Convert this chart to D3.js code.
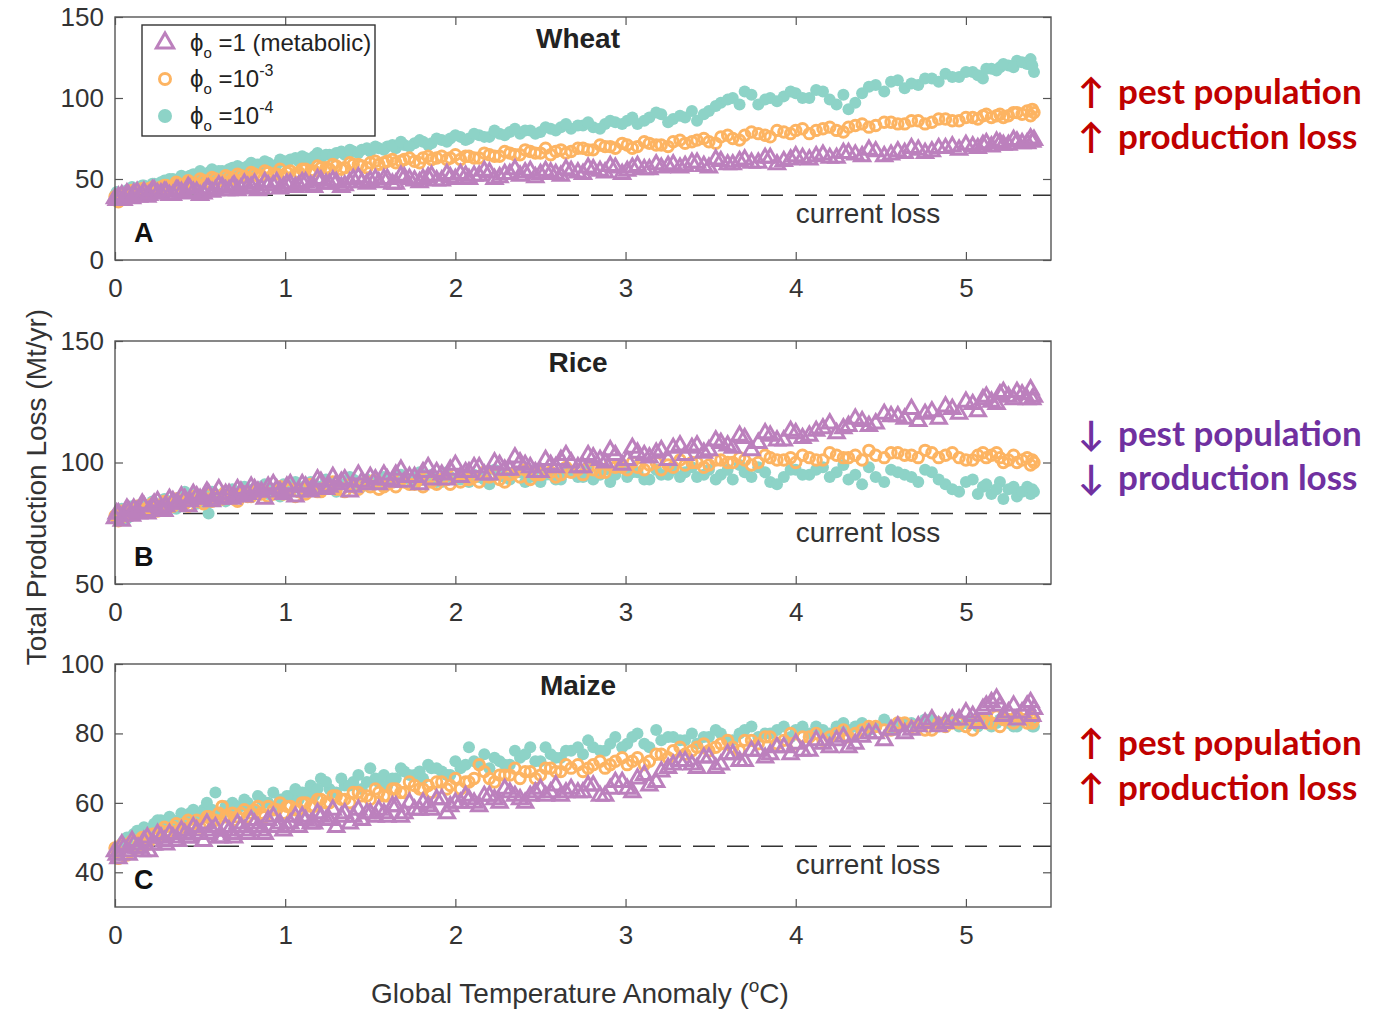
<!DOCTYPE html>
<html>
<head>
<meta charset="utf-8">
<script src="https://cdn.jsdelivr.net/npm/d3@7"></script>
<style>
  body { margin: 0; background: #fff; }
  svg { display: block; font-family: "Liberation Sans", Arial, sans-serif; }
</style>
</head>
<body>
<svg id="chart" width="1389" height="1010"></svg>
<script>
// temperature anomaly of the model runs (deg C), two ensembles
const temps = [
  0.00,0.02,0.05,0.08,0.11,0.14,0.17,0.20,0.23,0.27,
  0.30,0.34,0.37,0.41,0.44,0.48,0.52,0.55,0.59,0.63,
  0.67,0.70,0.74,0.78,0.82,0.86,0.90,0.95,0.99,1.03,
  1.08,1.12,1.17,1.21,1.26,1.30,1.35,1.40,1.45,1.50,
  1.55,1.60,1.65,1.70,1.76,1.81,1.86,1.92,1.97,2.03,
  2.08,2.14,2.20,2.26,2.32,2.38,2.44,2.50,2.56,2.62,
  2.68,2.75,2.81,2.88,2.94,3.01,3.07,3.14,3.21,3.28,
  3.35,3.42,3.49,3.56,3.63,3.70,3.78,3.85,3.93,4.00,
  4.08,4.16,4.24,4.31,4.39,4.47,4.56,4.64,4.72,4.80,
  4.88,4.96,5.04,5.10,5.15,5.20,5.25,5.30,5.36,5.40
];
const temps2 = [
  0.01,0.04,0.07,0.10,0.13,0.16,0.19,0.22,0.25,0.29,
  0.32,0.36,0.39,0.43,0.46,0.50,0.54,0.57,0.61,0.65,
  0.69,0.72,0.76,0.80,0.84,0.88,0.93,0.97,1.01,1.06,
  1.10,1.15,1.19,1.24,1.28,1.33,1.38,1.43,1.48,1.53,
  1.58,1.63,1.68,1.73,1.79,1.84,1.89,1.95,2.00,2.06,
  2.11,2.17,2.23,2.29,2.35,2.41,2.47,2.53,2.59,2.65,
  2.72,2.78,2.85,2.91,2.98,3.04,3.11,3.18,3.25,3.32,
  3.39,3.46,3.53,3.60,3.67,3.74,3.82,3.89,3.97,4.04,
  4.12,4.20,4.28,4.35,4.43,4.52,4.60,4.68,4.76,4.84,
  4.92,5.00,5.07,5.12,5.18,5.22,5.28,5.33,5.38,5.39
];

// Wheat (Mt/yr)
const wheatMetabolic = [
  38,39,37,40,41,39,42,40,43,41, 42,40,43,41,44,42,41,44,43,45,
  43,46,44,45,47,44,46,48,45,47, 46,48,45,49,47,48,46,50,48,49,
  48,50,47,51,49,50,52,49,51,53, 50,52,54,51,53,52,55,53,54,52,
  55,53,56,54,57,55,58,56,57,59, 58,60,57,61,59,62,60,63,61,64,
  62,65,63,66,64,67,65,66,68,67, 69,68,70,71,70,72,71,73,72,74
];
const wheatMetabolic2 = [
  37,40,41,38,42,40,39,43,41,42, 40,43,42,45,42,40,44,42,46,43,
  45,43,47,45,43,48,46,44,47,45, 48,46,50,47,49,45,48,51,47,50,
  50,47,52,50,48,51,49,53,50,52, 52,55,50,53,56,54,51,55,53,56,
  54,57,55,58,53,57,56,59,58,57, 60,58,62,59,61,60,63,59,62,63,
  64,63,66,65,68,64,67,69,66,69, 70,71,69,72,73,71,74,72,75,73
];
const wheatPhi3 = [
  39,36,40,42,41,43,42,44,43,45, 46,44,47,46,48,47,49,48,50,49,
  51,50,52,51,53,52,54,53,52,55, 54,56,55,57,56,58,57,59,58,60,
  59,61,60,62,61,63,62,64,63,62, 64,63,65,64,66,65,67,66,65,68,
  67,69,68,70,69,71,70,72,71,73, 72,74,73,76,75,77,78,76,79,80,
  78,81,80,82,84,83,85,84,86,85, 87,86,88,89,88,90,89,91,92,91
];
const wheatPhi3b = [
  37,41,39,43,40,44,41,45,44,46, 45,48,46,49,47,50,48,51,49,52,
  50,53,51,54,52,55,53,56,54,53, 56,55,58,57,59,56,60,59,57,61,
  60,62,61,63,60,64,63,62,65,64, 63,66,64,67,65,68,66,69,67,66,
  69,68,71,70,72,69,73,71,70,74, 73,75,72,77,74,79,77,80,78,81,
  80,82,79,83,82,85,84,86,84,87, 86,88,87,90,89,88,91,90,89,93
];
const wheatPhi4 = [
  40,41,42,43,44,44,46,45,47,48, 48,50,49,51,52,51,53,54,53,55,
  56,55,57,58,57,59,60,59,61,62, 61,63,64,63,65,66,65,67,68,67,
  69,70,69,71,72,73,72,74,75,76, 75,77,76,78,79,78,80,79,81,82,
  81,83,82,84,85,86,84,88,90,87, 88,86,92,97,100,104,96,100,101,103,
  100,104,96,93,103,108,110,106,108,112, 115,113,116,112,118,119,120,123,121,116
];
const wheatPhi4b = [
  42,40,43,45,43,46,44,47,46,49, 50,48,52,50,53,55,52,56,55,54,
  57,58,56,60,59,61,58,62,60,63, 64,62,66,65,64,67,68,66,69,70,
  68,71,73,70,74,71,75,73,77,74, 78,76,80,77,81,80,78,82,80,84,
  83,85,81,86,84,88,86,91,85,89, 92,90,95,99,96,102,99,98,104,100,
  105,99,102,97,107,104,111,109,112,110, 113,116,114,118,117,121,119,122,124,120
];

// Rice (Mt/yr)
const riceMetabolic = [
  77,79,78,80,81,79,82,80,83,81, 82,84,83,85,84,86,85,87,86,85,
  87,86,88,87,89,88,90,89,87,91, 88,90,89,92,90,91,93,90,92,94,
  91,93,95,92,94,96,93,95,97,94, 96,98,95,99,97,100,98,96,99,101,
  100,98,102,100,103,101,104,102,105,106, 103,107,105,108,106,110,108,111,109,112,
  111,114,112,115,117,116,119,118,117,121, 123,120,124,126,125,128,127,129,126,127
];
const riceMetabolic2 = [
  79,76,81,78,80,83,79,82,84,80, 85,83,86,82,87,85,88,84,89,87,
  85,89,86,90,88,85,91,88,90,86, 91,88,93,89,94,92,88,95,91,93,
  95,92,97,94,91,98,96,93,99,96, 98,95,100,97,102,99,96,101,98,103,
  98,103,101,105,99,106,103,104,101,107, 106,104,109,107,111,105,112,109,113,110,
  113,116,114,118,115,120,119,122,120,118, 122,125,121,127,124,129,126,128,130,126
];
const ricePhi3 = [
  78,76,79,80,79,81,80,82,81,82, 83,82,84,83,85,84,83,85,86,85,
  86,85,87,86,88,87,86,88,87,89, 88,87,89,88,90,89,88,90,91,90,
  89,91,90,92,91,90,92,93,91,92, 93,92,94,93,95,94,93,95,96,95,
  96,95,97,96,98,97,98,99,97,98, 99,100,99,101,100,101,100,102,101,100,
  102,101,103,102,101,103,104,103,102,104, 103,102,101,104,103,102,101,100,102,100
];
const ricePhi3b = [
  77,80,78,79,82,80,81,83,80,84, 82,85,84,82,86,85,87,84,86,88,
  87,84,88,86,89,88,87,90,89,86, 89,91,88,90,92,89,91,89,92,93,
  90,92,93,91,93,94,91,93,95,94, 94,96,95,92,96,97,95,97,94,98,
  97,98,96,99,98,100,97,100,99,101, 100,98,101,100,102,99,103,101,102,103,
  101,104,102,103,105,102,104,103,105,102, 104,101,103,102,104,100,103,101,99,101
];
const ricePhi4 = [
  78,76,80,79,81,80,82,81,83,80, 82,84,83,88,84,83,86,79,85,87,
  86,88,87,89,88,90,87,89,91,88, 90,89,91,90,92,88,91,93,90,92,
  91,93,92,94,91,93,95,92,94,93, 92,94,91,95,93,96,94,92,95,93,
  96,94,93,97,95,94,96,93,95,97, 96,94,97,95,93,96,98,92,94,97,
  95,98,96,93,91,94,97,95,92,96, 91,88,93,90,87,92,89,86,90,88
];
const ricePhi4b = [
  79,81,77,82,79,83,81,84,82,85, 83,81,86,84,87,85,83,88,86,84,
  89,86,90,88,87,91,89,86,90,92, 88,92,90,93,89,91,94,90,93,91,
  94,92,95,93,96,94,92,96,93,95, 95,93,97,94,96,92,97,95,93,96,
  94,97,95,92,98,96,93,97,95,94, 98,95,93,97,99,94,96,91,97,95,
  97,94,99,95,98,92,96,94,97,93, 89,92,87,91,89,85,90,88,87,89
];

// Maize (Mt/yr)
const maizeMetabolic = [
  46,44,47,45,48,47,49,46,48,50, 48,50,49,51,50,52,49,51,53,50,
  52,50,53,51,54,52,55,53,52,54, 53,55,54,56,55,53,57,56,55,57,
  58,56,59,57,58,60,58,61,59,60, 61,59,62,60,63,61,62,64,63,62,
  64,63,65,62,66,64,67,65,69,71, 72,70,73,71,74,72,75,74,76,77,
  75,77,78,76,79,80,81,80,82,84, 83,84,85,87,89,88,86,84,88,87
];
const maizeMetabolic2 = [
  45,48,46,49,47,46,50,48,51,49, 51,49,52,50,53,51,54,52,50,53,
  51,54,52,55,53,51,56,54,53,56, 56,54,57,55,58,56,54,58,57,56,
  57,59,56,60,58,59,61,57,60,62, 60,62,61,64,62,60,63,62,65,63,
  63,65,62,64,66,63,68,66,70,72, 71,73,70,74,72,75,73,76,74,75,
  78,76,79,77,80,78,82,81,83,82, 84,86,83,88,90,85,88,86,89,85
];
const maizePhi3 = [
  47,44,48,46,49,48,50,49,51,52, 51,53,52,54,53,55,54,56,55,59,
  56,55,57,56,58,57,59,58,57,59, 58,60,59,61,60,62,61,63,62,61,
  63,62,64,63,65,64,63,66,65,64, 66,71,67,68,68,67,69,68,70,69,
  70,69,71,70,72,71,73,72,74,75, 74,76,75,77,76,78,77,79,78,77,
  79,78,80,79,81,82,81,83,82,81, 82,83,81,84,83,82,84,85,83,84
];
const maizePhi3b = [
  46,48,45,49,47,50,48,51,50,53, 52,54,51,55,54,53,56,55,57,56,
  57,56,58,57,59,56,58,60,59,58, 60,59,61,60,62,61,60,63,62,64,
  62,64,63,66,64,65,66,64,67,66, 67,69,66,68,70,69,67,70,69,71,
  71,70,72,71,73,72,71,74,73,76, 75,77,76,78,75,78,79,77,80,79,
  80,79,81,80,82,81,83,82,81,83, 83,82,84,83,85,84,83,84,85,83
];
const maizePhi4 = [
  47,45,49,48,51,50,53,52,54,55, 53,55,54,56,57,55,58,56,63,57,
  58,57,59,60,58,61,60,59,61,62, 61,63,62,67,64,63,65,66,64,70,
  66,65,67,69,68,67,70,69,68,70, 76,71,70,72,71,73,76,72,74,73,
  75,74,76,75,79,77,80,76,78,79, 78,77,79,80,78,81,79,80,82,81,
  80,81,82,81,83,82,81,83,82,84, 83,82,84,83,82,84,83,82,84,82
];
const maizePhi4b = [
  46,48,50,47,52,51,50,53,55,54, 56,54,57,55,58,56,60,58,57,59,
  60,59,61,58,62,60,63,61,62,64, 63,65,64,66,63,67,65,68,66,67,
  68,67,70,68,69,71,70,68,72,71, 72,74,73,71,75,74,72,76,73,75,
  76,78,75,77,76,79,77,81,79,78, 80,79,81,78,80,82,80,81,79,82,
  82,80,83,82,81,84,82,83,84,82, 84,83,82,84,83,85,82,84,83,82
];

const cropNames = ['Wheat', 'Rice', 'Maize'];
const panelLetters = ['A', 'B', 'C'];
const currentLoss = [40, 79, 47.5];
const yDomains = [[0, 150], [50, 150], [30, 100]];
const yTickValues = [[0, 50, 100, 150], [50, 100, 150], [40, 60, 80, 100]];
const xTickValues = [0, 1, 2, 3, 4, 5];
// [metabolic, 1e-3, 1e-4] for each crop, each as two ensembles
const cropSeries = [
  [[wheatMetabolic, wheatMetabolic2], [wheatPhi3, wheatPhi3b], [wheatPhi4, wheatPhi4b]],
  [[riceMetabolic, riceMetabolic2], [ricePhi3, ricePhi3b], [ricePhi4, ricePhi4b]],
  [[maizeMetabolic, maizeMetabolic2], [maizePhi3, maizePhi3b], [maizePhi4, maizePhi4b]]
];
const effectArrows = ['\u2191', '\u2193', '\u2191'];
const effectLines = ['pest population', 'production loss'];

const purple = '#bc80bd', orange = '#fdb462', teal = '#8dd3c7';
const effectColors = ['#c00000', '#7030a0', '#c00000'];
const axisColor = '#555', textColor = '#333';

const svg = d3.select('#chart');
const left = 115, right = 1051, panelH = 243;
const panelTop = [17, 341, 664];
const effectBaselines = [[104, 149], [446, 490], [755, 800]];

const x = d3.scaleLinear().domain([0, 5.5]).range([left, right]);
const triangle = d3.symbol(d3.symbolTriangle, 100);

// flatten two ensembles into {t, v}
const points = (runs) => runs[0].map((v, k) => ({ t: temps[k], v }))
    .concat(runs[1].map((v, k) => ({ t: temps2[k], v })));

cropNames.forEach((name, i) => {
    const top = panelTop[i];
    const y = d3.scaleLinear().domain(yDomains[i]).range([top + panelH, top]);
    const g = svg.append('g');

    // axes, ticks pointing inward
    g.append('g').attr('transform', `translate(0,${top + panelH})`)
        .call(d3.axisBottom(x).tickValues(xTickValues).tickFormat(d3.format('d')).tickSize(-8).tickPadding(19));
    g.append('g').attr('transform', `translate(0,${top})`)
        .call(d3.axisTop(x).tickValues(xTickValues).tickSize(-8).tickFormat(''));
    g.append('g').attr('transform', `translate(${left},0)`)
        .call(d3.axisLeft(y).tickValues(yTickValues[i]).tickSize(-8).tickPadding(11));
    g.append('g').attr('transform', `translate(${right},0)`)
        .call(d3.axisRight(y).tickValues(yTickValues[i]).tickSize(-8).tickFormat(''));
    g.selectAll('.domain').remove();
    g.selectAll('.tick line').attr('stroke', axisColor).attr('stroke-width', 1.2);
    g.selectAll('.tick text').attr('fill', textColor)
        .style('font-size', '26px').style('font-family', '"Liberation Sans", Arial, sans-serif');

    // current loss
    g.append('line')
        .attr('x1', left).attr('x2', right)
        .attr('y1', y(currentLoss[i])).attr('y2', y(currentLoss[i]))
        .attr('stroke', '#333').attr('stroke-width', 1.6)
        .attr('stroke-dasharray', '22,12');
    g.append('text')
        .attr('x', 868).attr('y', y(currentLoss[i]) + 28)
        .attr('text-anchor', 'middle').attr('fill', textColor)
        .style('font-size', '28px').text('current loss');

    const [metab, phi3, phi4] = cropSeries[i];

    g.append('g').selectAll('circle').data(points(phi4)).join('circle')
        .attr('cx', d => x(d.t)).attr('cy', d => y(d.v))
        .attr('r', 6).attr('fill', teal);
    g.append('g').selectAll('circle').data(points(phi3)).join('circle')
        .attr('cx', d => x(d.t)).attr('cy', d => y(d.v))
        .attr('r', 5.2).attr('fill', 'none').attr('stroke', orange).attr('stroke-width', 3);
    g.append('g').selectAll('path').data(points(metab)).join('path')
        .attr('transform', d => `translate(${x(d.t)},${y(d.v)})`)
        .attr('d', triangle)
        .attr('fill', 'none').attr('stroke', purple).attr('stroke-width', 3);

    // frame
    g.append('rect')
        .attr('x', left).attr('y', top).attr('width', right - left).attr('height', panelH)
        .attr('fill', 'none').attr('stroke', axisColor).attr('stroke-width', 1.4);

    g.append('text')
        .attr('x', 578).attr('y', top + 31)
        .attr('text-anchor', 'middle').attr('fill', '#222')
        .style('font-size', '28px').style('font-weight', 'bold').text(name);
    g.append('text')
        .attr('x', 134).attr('y', top + 225)
        .attr('fill', '#111')
        .style('font-size', '27px').style('font-weight', 'bold').text(panelLetters[i]);

    // effect annotation on the right
    const ann = svg.append('g').style('font-family', 'Lato, "Open Sans", "DejaVu Sans", sans-serif')
        .style('font-weight', 'bold').style('font-size', '35px').attr('fill', effectColors[i]);
    effectLines.forEach((label, j) => {
        const t = ann.append('text').attr('y', effectBaselines[i][j]);
        t.append('tspan').attr('x', 1078).text(effectArrows[i]);
        t.append('tspan').attr('x', 1118).text(label);
    });
});

// legend
const legend = svg.append('g');
legend.append('rect')
    .attr('x', 142).attr('y', 25).attr('width', 233).attr('height', 111)
    .attr('fill', '#fff').attr('stroke', '#333').attr('stroke-width', 1.4);
const legendRest = ['=1 (metabolic)', '=10', '=10'];
const legendSup = [null, '-3', '-4'];
const legendY = [43, 79, 116];
legend.append('path')
    .attr('transform', `translate(165,${legendY[0]})`)
    .attr('d', d3.symbol(d3.symbolTriangle, 130))
    .attr('fill', 'none').attr('stroke', purple).attr('stroke-width', 3);
legend.append('circle').attr('cx', 165).attr('cy', legendY[1]).attr('r', 5.5)
    .attr('fill', 'none').attr('stroke', orange).attr('stroke-width', 3);
legend.append('circle').attr('cx', 165).attr('cy', legendY[2]).attr('r', 7).attr('fill', teal);
legendRest.forEach((rest, j) => {
    const t = legend.append('text').attr('x', 190).attr('y', legendY[j] + 8)
        .attr('fill', '#222').style('font-size', '24px');
    t.append('tspan').text('\u03d5');
    t.append('tspan').attr('dy', 7).style('font-size', '15px').text('o');
    t.append('tspan').attr('dy', -7).text(' ' + rest);
    if (legendSup[j]) t.append('tspan').attr('dy', -11).style('font-size', '16px').text(legendSup[j]);
});

// axis titles
svg.append('text')
    .attr('transform', 'translate(46,487) rotate(-90)')
    .attr('text-anchor', 'middle').attr('fill', textColor)
    .style('font-size', '28px').text('Total Production Loss (Mt/yr)');
const xt = svg.append('text')
    .attr('x', 580).attr('y', 1003)
    .attr('text-anchor', 'middle').attr('fill', textColor)
    .style('font-size', '28px');
xt.append('tspan').text('Global Temperature Anomaly (');
xt.append('tspan').attr('dy', -11).style('font-size', '19px').text('o');
xt.append('tspan').attr('dy', 11).text('C)');
</script>
</body>
</html>
